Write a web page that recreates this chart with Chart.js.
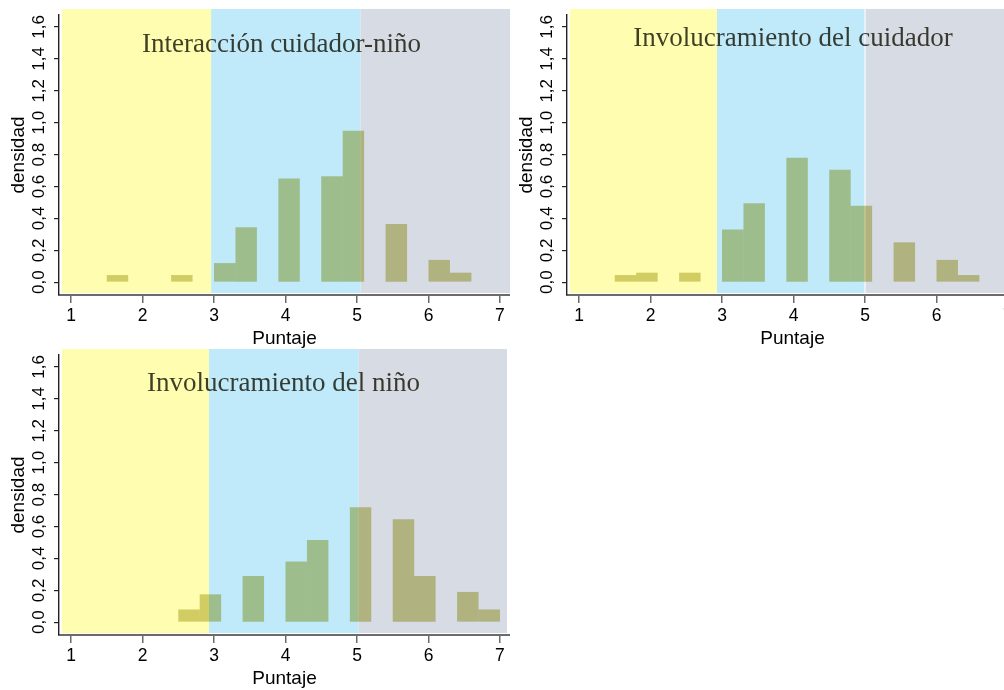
<!DOCTYPE html>
<html>
<head>
<meta charset="utf-8">
<script src="https://cdn.jsdelivr.net/npm/chart.js@4.4.1/dist/chart.umd.min.js"></script>
<style>
  html, body { margin: 0; padding: 0; background: #fff; overflow: hidden; }
  #page { position: relative; width: 1004px; height: 690px; overflow: hidden; }
  .panel { position: absolute; width: 510px; height: 350px; }
</style>
</head>
<body>
<div id="page">
  <div class="panel" style="left:0;top:0"><canvas id="c1" width="510" height="350"></canvas></div>
  <div class="panel" style="left:508px;top:0"><canvas id="c2" width="510" height="350"></canvas></div>
  <div class="panel" style="left:0;top:340px"><canvas id="c3" width="510" height="350"></canvas></div>
</div>
<script>
// histogram bins (lower edge) and density
const binWidth = 0.3;

const binStart1 = [1.5, 2.4, 3.0, 3.3, 3.9, 4.5, 4.8, 5.4, 6.0, 6.3];
const density1  = [0.045, 0.045, 0.12, 0.345, 0.65, 0.665, 0.95, 0.365, 0.14, 0.06];

const binStart2 = [1.5, 1.8, 2.4, 3.0, 3.3, 3.9, 4.5, 4.8, 5.4, 6.0, 6.3];
const density2  = [0.045, 0.06, 0.06, 0.33, 0.495, 0.78, 0.705, 0.48, 0.25, 0.14, 0.045];

const binStart3 = [2.5, 2.8, 3.4, 4.0, 4.3, 4.9, 5.5, 5.8, 6.4, 6.7];
const density3  = [0.08, 0.175, 0.29, 0.38, 0.515, 0.72, 0.645, 0.29, 0.19, 0.08];

// score bands: low / medium / high cut points
const cuts1 = [2.96, 5.05];
const cuts2 = [2.93, 5.0];
const cuts3 = [2.93, 5.02];

const titles = ['Interacción cuidador-niño', 'Involucramiento del cuidador', 'Involucramiento del niño'];

const xTicks = [1, 2, 3, 4, 5, 6, 7];
const xTickLabels = ['1', '2', '3', '4', '5', '6', '7'];
const yTicks = [0, 0.2, 0.4, 0.6, 0.8, 1.0, 1.2, 1.4, 1.6];
const yTickLabels = ['0,0', '0,2', '0,4', '0,6', '0,8', '1,0', '1,2', '1,4', '1,6'];

const bandColors = ['#fffdb0', '#c0eafa', '#d7dbe3'];

const bandsPlugin = {
    id: 'bands',
    beforeDraw(chart, args, opts) {
        const { ctx, chartArea } = chart;
        const x = chart.scales.x;
        const top = chartArea.top - 6;
        const bottom = chartArea.bottom - 2;
        const edges = [chartArea.left + 3, x.getPixelForValue(opts.cuts[0]), x.getPixelForValue(opts.cuts[1]), opts.right || chartArea.right];
        ctx.save();
        for (let i = 0; i < 3; i++) {
            ctx.fillStyle = bandColors[i];
            ctx.fillRect(edges[i], top, edges[i + 1] - edges[i], bottom - top);
        }
        // thin white seam between bands on some panels
        if (opts.seam) {
            ctx.fillStyle = '#fff';
            ctx.fillRect(edges[2] - 0.5, top, 1, bottom - top);
        }
        ctx.restore();
    },
    // bars tint whatever band they sit on
    beforeDatasetsDraw(chart) {
        chart.ctx.save();
        chart.ctx.globalCompositeOperation = 'multiply';
    },
    afterDatasetsDraw(chart, args, opts) {
        const ctx = chart.ctx;
        ctx.restore();
        ctx.save();
        ctx.font = '27px "Liberation Serif", "Times New Roman", serif';
        ctx.fillStyle = 'rgba(15,15,0,0.8)';
        ctx.textAlign = 'center';
        ctx.textBaseline = 'alphabetic';
        ctx.fillText(opts.title, opts.titleX, opts.titleY);
        ctx.restore();
    }
};

function makePanel(canvasId, binStart, density, cuts, title, titleX, titleY, bandRight, seam) {
    const points = binStart.map((b, i) => ({ x: b + binWidth / 2, y: density[i] }));
    return new Chart(document.getElementById(canvasId), {
        type: 'bar',
        data: {
            datasets: [{
                data: points,
                backgroundColor: 'rgb(209,207,143)',
                borderWidth: 0,
                inflateAmount: 0,
                barPercentage: 1,
                categoryPercentage: 1
            }]
        },
        options: {
            responsive: false,
            animation: false,
            layout: { padding: { top: 15, left: 0, right: 0, bottom: 0 } },
            plugins: {
                legend: { display: false },
                tooltip: { enabled: false },
                bands: { cuts: cuts, title: title, titleX: titleX, titleY: titleY, right: bandRight, seam: seam }
            },
            scales: {
                x: {
                    type: 'linear',
                    min: 0.832,
                    max: 7.14,
                    offset: false,
                    afterFit: s => { s.height = 55; },
                    afterBuildTicks: s => { s.ticks = xTicks.map(v => ({ value: v })); },
                    grid: { drawOnChartArea: false, drawTicks: true, tickLength: 8, color: '#6b6b6b', lineWidth: 1.5, offset: false },
                    border: { display: true, color: '#6b6b6b', width: 2 },
                    ticks: {
                        autoSkip: false,
                        maxRotation: 0,
                        padding: 3,
                        color: '#000',
                        font: { family: '"Liberation Sans", Arial, sans-serif', size: 17.5 },
                        callback: (v, i) => xTickLabels[i]
                    },
                    title: {
                        display: true,
                        text: 'Puntaje',
                        color: '#000',
                        padding: { top: 0, bottom: 0 },
                        font: { family: '"Liberation Sans", Arial, sans-serif', size: 19 }
                    }
                },
                y: {
                    min: -0.08,
                    max: 1.675,
                    afterFit: s => { s.width = 59; },
                    afterBuildTicks: s => { s.ticks = yTicks.map(v => ({ value: v })); },
                    grid: { drawOnChartArea: false, drawTicks: true, tickLength: 5, color: '#222', lineWidth: 1.2 },
                    border: { display: true, color: '#222', width: 1.4 },
                    ticks: {
                        autoSkip: false,
                        minRotation: 90,
                        maxRotation: 90,
                        crossAlign: 'center',
                        padding: 3,
                        color: '#000',
                        font: { family: '"Liberation Sans", Arial, sans-serif', size: 17 },
                        callback: (v, i) => yTickLabels[i]
                    },
                    title: {
                        display: true,
                        text: 'densidad',
                        color: '#000',
                        padding: { top: 7.5, bottom: 0 },
                        font: { family: '"Liberation Sans", Arial, sans-serif', size: 19 }
                    }
                }
            }
        },
        plugins: [bandsPlugin]
    });
}

makePanel('c1', binStart1, density1, cuts1, titles[0], 281.5, 52, null, false);
makePanel('c2', binStart2, density2, cuts2, titles[1], 285, 46, null, true);
makePanel('c3', binStart3, density3, cuts3, titles[2], 283.5, 51, 507, false);
</script>
</body>
</html>
